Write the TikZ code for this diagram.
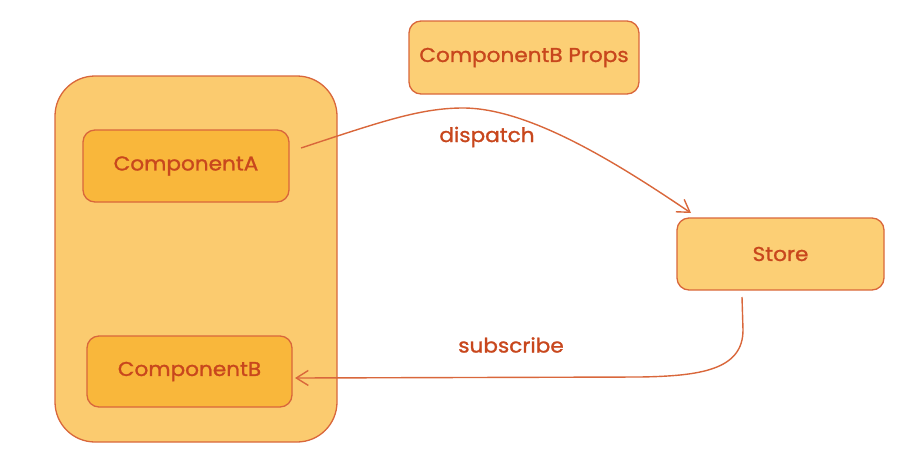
\documentclass[tikz,border=0pt]{standalone}
\usepackage{fontspec}
\setmainfont{Poppins}[FakeStretch=1.08, FakeBold=1.2]
\usetikzlibrary{arrows.meta}
\definecolor{strokec}{HTML}{D9673B}
\definecolor{textc}{HTML}{C8471D}
\definecolor{outerfill}{HTML}{FBCB6F}
\definecolor{innerfill}{HTML}{F9B73B}
\definecolor{lightfill}{HTML}{FCCF75}
\tikzset{
  boxbase/.style={draw=strokec, line width=1.3pt, rounded corners=12pt, text=textc,
    font=\fontsize{20}{24}\selectfont, inner sep=0pt},
  outerbox/.style={boxbase, fill=outerfill, rounded corners=40pt},
  innerbox/.style={boxbase, fill=innerfill},
  lightbox/.style={boxbase, fill=lightfill},
  conn/.style={draw=strokec, line width=1.4pt, -{Straight Barb[length=12pt,width=15pt,line width=1.4pt]}},
  lbl/.style={text=textc, font=\fontsize{20}{24}\selectfont, inner sep=0pt}
}
\begin{document}
\begin{tikzpicture}[x=1pt,y=-1pt]
\useasboundingbox (0,0) rectangle (913,464);
\node[outerbox, minimum width=282pt, minimum height=366pt] (outer) at (196,259) {};
\node[innerbox, minimum width=206pt, minimum height=72pt] (compA) at (186,166) {ComponentA};
\node[innerbox, minimum width=205pt, minimum height=71pt] (compB) at (189.5,371.5) {ComponentB};
\node[lightbox, minimum width=230pt, minimum height=73pt] (props) at (524,57.5) {ComponentB Props};
\node[lightbox, minimum width=207pt, minimum height=72pt] (store) at (780.5,254) {Store};
\coordinate (dstart) at (301,148);
\coordinate (dpeak) at (463,108);
\coordinate (dend) at (691,213);
\draw[conn] (dstart) .. controls (380,122) and (420,108) .. (dpeak)
  .. controls (530,108) and (620,165) .. (dend);
\coordinate (sstart) at (742,297);
\coordinate (sbend) at (743,330);
\coordinate (sflat) at (640,377);
\coordinate (send) at (295,378);
\draw[conn] (sstart) -- (sbend) .. controls (743,370) and (700,376) .. (sflat) -- (send);
\node[lbl] (dlabel) at (487,137) {dispatch};
\node[lbl] (slabel) at (511,345) {subscribe};
\end{tikzpicture}
\end{document}
